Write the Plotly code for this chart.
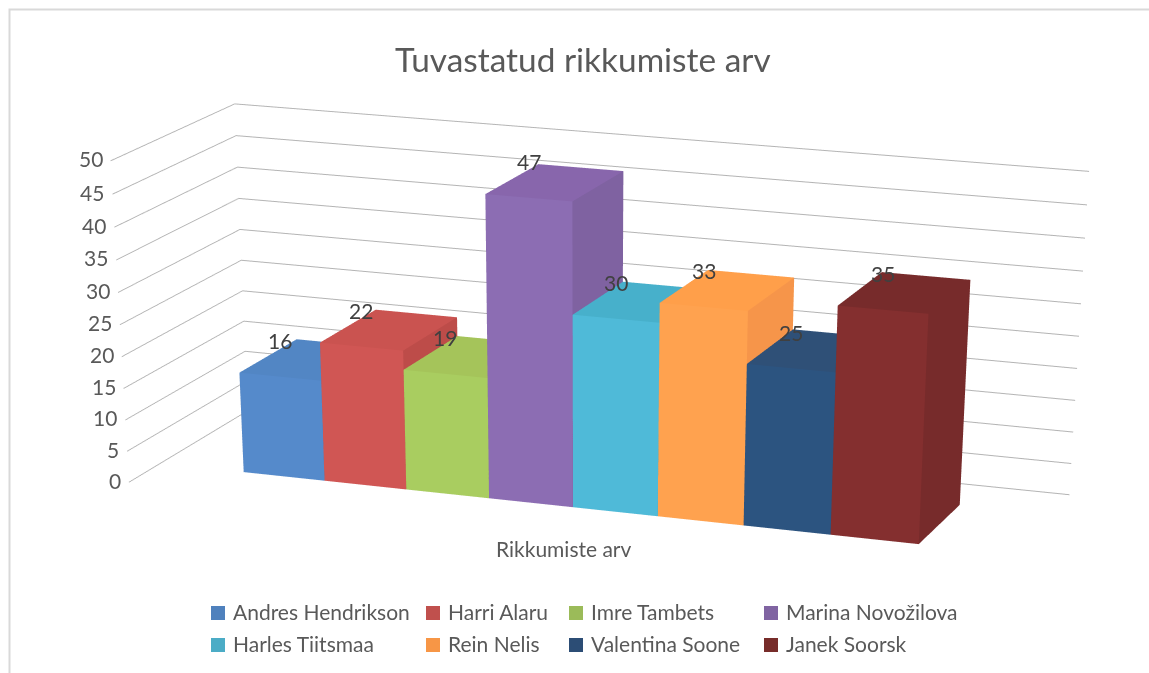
import numpy as np
import plotly.graph_objects as go

names = ["Andres Hendrikson","Harri Alaru","Imre Tambets","Marina Novožilova","Harles Tiitsmaa","Rein Nelis","Valentina Soone","Janek Soorsk"]
values = [16,22,19,47,30,33,25,35]
z_ticks = [0,5,10,15,20,25,30,35,40,45,50]
base = ["#4F81BD","#C0504D","#9BBB59","#8064A2","#4BACC6","#F79646","#2C4D75","#772C2A"]
front = ["#558ACB","#D05654","#A9CD60","#8C6DB3","#4FBAD8","#FFA24F","#2C5480","#842F2F"]
top = ["#5286C4","#CA5350","#A5C45A","#8866AC","#47B0CB","#FF9F4A","#2F5077","#772B2B"]
side = ["#4A7AB5","#BD4C49","#98B654","#7F62A1","#45A5BF","#F6954A","#294A70","#772B2B"]
title_text = "Tuvastatud rikkumiste arv"
category_label = "Rikkumiste arv"

# Camera fit for a tall canvas (the scene's field of view is fixed, so a long lens needs a tall one)
H = 3500
yaw, pitch, roll = 0.3514, 0.5621, 0.0023
eye = np.array([1.638, -4.4501, 1.1502])
ay, az = 0.323, 0.3441
xlo, xhi, a, d = -0.0419, 10.0395, 0.2565, 0.4914
fw = np.array([-np.sin(yaw)*np.cos(pitch), np.cos(yaw)*np.cos(pitch), -np.sin(pitch)])
r0 = np.cross(fw,[0,0,1.]); r0 /= np.linalg.norm(r0)
u0 = np.cross(r0,fw)
up = -np.sin(roll)*r0+np.cos(roll)*u0
cen = eye+fw*np.linalg.norm(eye)

Y = lambda py: 1-py/H
X = lambda px: px/1149

fig = go.Figure()
for i,(n,v) in enumerate(zip(names,values)):
    x0,x1 = i+1,i+2; y0,y1 = a,a+d
    vx=[x0,x1,x1,x0,x0,x1,x1,x0]; vy=[y0,y0,y1,y1,y0,y0,y1,y1]; vz=[0,0,0,0,v,v,v,v]
    I=[0,0,4,4,1,1,0,0,3,3,0,0]; J=[1,2,5,6,2,6,1,5,2,6,3,7]; K=[2,3,6,7,6,5,5,4,6,7,7,4]
    fc=[side[i]]*2+[top[i]]*2+[side[i]]*2+[front[i]]*2+[side[i]]*4
    fig.add_trace(go.Mesh3d(x=vx,y=vy,z=vz,i=I,j=J,k=K,facecolor=fc,flatshading=True,showscale=False,hoverinfo="skip",name=n,
        lighting=dict(ambient=1,diffuse=0,specular=0,fresnel=0,roughness=1)))

axis_off=dict(showgrid=False,zeroline=False,showline=False,showticklabels=False,showbackground=False,showspikes=False,title="",ticks="")
scene_ann=[dict(x=i+1.5,y=a,z=v,yshift=36,text=str(v),showarrow=False,font=dict(family="Lato",size=21,color="#404040"),xanchor="center",yanchor="middle")
           for i,v in enumerate(values)]
scene_ann+=[dict(x=xlo,y=0,z=t,xshift=-6,yshift=2,text=str(t),showarrow=False,font=dict(family="Lato",size=21,color="#595959"),xanchor="right",yanchor="middle")
            for t in z_ticks]
legend_x=[211,426,569,764]
legend_rows=[612,644]
anns=[dict(x=X(583),y=Y(59),xref="paper",yref="paper",text=title_text,showarrow=False,font=dict(family="Lato",size=33.4,color="#595959"),xanchor="center",yanchor="middle"),
      dict(x=X(564),y=Y(549),xref="paper",yref="paper",text=category_label,showarrow=False,font=dict(family="Lato",size=21,color="#595959"),xanchor="center",yanchor="middle")]
shapes=[dict(type="rect",xref="paper",yref="paper",x0=X(9.5),x1=X(1160),y0=Y(9.5),y1=Y(690),line=dict(color="#d9d9d9",width=2),fillcolor="rgba(0,0,0,0)")]
for i,n in enumerate(names):
    px=legend_x[i%4]; py=legend_rows[i//4]
    shapes.append(dict(type="rect",xref="paper",yref="paper",x0=X(px),x1=X(px+14),y0=Y(py-6),y1=Y(py+8),fillcolor=base[i],line=dict(width=0)))
    anns.append(dict(x=X(px+20),y=Y(py),xref="paper",yref="paper",text=n,showarrow=False,font=dict(family="Lato",size=21,color="#595959"),xanchor="left",yanchor="middle"))

fig.update_layout(width=1149,height=H,margin=dict(l=0,r=0,t=0,b=0),paper_bgcolor="white",showlegend=False,annotations=anns,shapes=shapes,
    scene=dict(domain=dict(x=[51/1149,1],y=[0,1]),aspectmode="manual",aspectratio=dict(x=1,y=ay,z=az),
      camera=dict(eye=dict(x=eye[0],y=eye[1],z=eye[2]),center=dict(x=cen[0],y=cen[1],z=cen[2]),up=dict(x=up[0],y=up[1],z=up[2]),projection=dict(type="perspective")),
      xaxis=dict(range=[xlo,xhi],**axis_off),yaxis=dict(range=[0,1],**axis_off),
      zaxis=dict(range=[0,50],dtick=5,showgrid=True,gridcolor="#b4b4b4",gridwidth=2,zeroline=False,showline=False,showbackground=False,showspikes=False,title="",ticks="",showticklabels=False),
      annotations=scene_ann))
fig.write_html("out.html",config=dict(displayModeBar=False),post_script="document.documentElement.style.overflow='hidden';document.body.style.margin='0';document.body.style.overflow='hidden';document.body.style.height='673px';")
